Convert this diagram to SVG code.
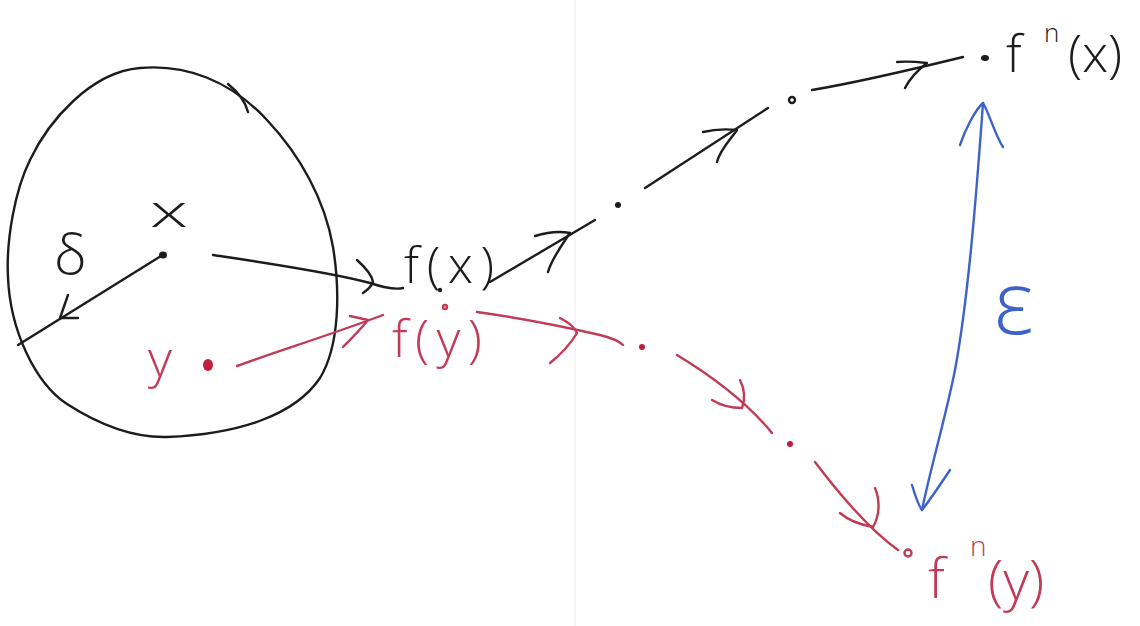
<svg xmlns="http://www.w3.org/2000/svg" width="1140" height="626" viewBox="0 0 1140 626">
<style>
.k{fill:none;stroke:#1c1c1c;stroke-width:2.4;stroke-linecap:round;stroke-linejoin:round}
.r{fill:none;stroke:#c23a55;stroke-width:2.4;stroke-linecap:round;stroke-linejoin:round}
.b{fill:none;stroke:#3d63c9;stroke-width:2.4;stroke-linecap:round;stroke-linejoin:round}
.tk{fill:#1c1c1c;font-family:"Open Sans","DejaVu Sans",sans-serif;font-weight:300}
.tr{fill:#c23a55;font-family:"Open Sans","DejaVu Sans",sans-serif;font-weight:300}
.tb{fill:#3d63c9;font-family:"Open Sans","DejaVu Sans",sans-serif;font-weight:300}
.dk{fill:#1c1c1c}
.dr{fill:#c0203c}
</style>
<rect width="1140" height="626" fill="#ffffff"/>
<line x1="575" y1="0" x2="575" y2="626" stroke="#eeeeee" stroke-width="1"/>

<g id="ball">
<path class="k" d="M140,68 C185,64 230,80 267,120 C300,155 325,200 333,247 C340,290 340,345 320,378 C295,415 240,434 167,437 C130,438 95,422 67,404 C35,383 10,330 8,277 C6,240 15,190 30,160 C48,122 90,72 140,68 Z"/>
<path class="k" d="M228,84 C238,92 245,100 248,112"/>
<text class="tk" x="54" y="274" font-size="56">δ</text>
</g>

<g id="node-x">
<ellipse class="dk" cx="163" cy="255" rx="4" ry="3.5"/>
<text class="tk" x="150" y="227" font-size="44" textLength="38" lengthAdjust="spacingAndGlyphs">x</text>
</g>

<g id="node-y">
<ellipse class="dr" cx="208" cy="365" rx="5" ry="6"/>
<text class="tr" x="148" y="377" font-size="52">y</text>
</g>

<g id="node-fx">
<circle class="dk" cx="440" cy="290" r="2.2"/>
<text class="tk" x="404" y="283" font-size="50" textLength="90" lengthAdjust="spacing">f(x)</text>
</g>

<g id="node-fy">
<circle class="r" cx="445" cy="307" r="2" stroke-width="1.5"/>
<text class="tr" x="392" y="357" font-size="52" textLength="90" lengthAdjust="spacing">f(y)</text>
</g>

<g id="node-x2">
<ellipse class="dk" cx="618" cy="205" rx="3" ry="3"/>
</g>
<g id="node-x3">
<circle class="k" cx="792" cy="100" r="3" stroke-width="1.6"/>
</g>
<g id="node-fnx">
<ellipse class="dk" cx="985" cy="58" rx="4" ry="3"/>
<text class="tk" font-size="52"><tspan x="1006" y="72">f</tspan><tspan x="1044" y="42" font-size="26">n</tspan><tspan x="1068" y="72">(x)</tspan></text>
</g>

<g id="node-y2">
<ellipse class="dr" cx="642" cy="347" rx="3" ry="3"/>
</g>
<g id="node-y3">
<ellipse class="dr" cx="790" cy="444" rx="3" ry="3"/>
</g>
<g id="node-fny">
<circle class="r" cx="908" cy="553" r="3.5" stroke-width="2"/>
<text class="tr" font-size="56"><tspan x="928" y="598">f</tspan><tspan x="970" y="556" font-size="28">n</tspan><tspan x="988" y="600">(y)</tspan></text>
</g>

<g id="epsilon">
<text class="tb" x="994" y="334" font-size="88">ε</text>
</g>

<g id="connectors">
<path class="k" d="M161,256 L18,345"/>
<path class="k" d="M68,295 L60,318 L78,318"/>
<path class="k" d="M213,255 C260,262 330,272 370,283 C385,288 395,290 403,288"/>
<path class="k" d="M357,260 C366,268 372,276 373,282 C371,287 366,291 363,293"/>
<path class="r" d="M237,366 C275,352 330,335 383,315"/>
<path class="r" d="M350,316 L368,320 C360,330 352,338 343,347"/>
<path class="k" d="M490,282 L595,220"/>
<path class="k" d="M535,236 C548,232 560,231 570,233 C562,245 552,258 548,272"/>
<path class="k" d="M645,188 L768,108"/>
<path class="k" d="M703,132 C715,129 727,129 737,130 C730,140 720,150 717,162"/>
<path class="k" d="M812,90 C860,82 910,70 963,57"/>
<path class="k" d="M897,62 C908,61 918,62 927,63 C918,70 910,78 905,88"/>
<path class="r" d="M477,312 C520,318 570,328 600,335 C612,338 620,342 623,345"/>
<path class="r" d="M560,318 C568,322 575,328 577,333 C570,345 560,355 550,363"/>
<path class="r" d="M677,355 C710,375 745,400 772,433"/>
<path class="r" d="M740,380 C745,390 745,400 742,408 C732,408 720,405 712,400"/>
<path class="r" d="M815,462 C840,495 870,530 898,550"/>
<path class="r" d="M875,488 C880,500 880,515 873,527 C862,525 848,520 840,513"/>
<path class="b" d="M983,103 C976,200 968,300 955,370 C945,420 930,470 922,510"/>
<path class="b" d="M960,145 C965,130 975,110 983,103 C990,115 995,135 1003,147"/>
<path class="b" d="M912,485 C915,495 918,505 922,510 C930,500 940,485 950,470"/>
</g>
</svg>
